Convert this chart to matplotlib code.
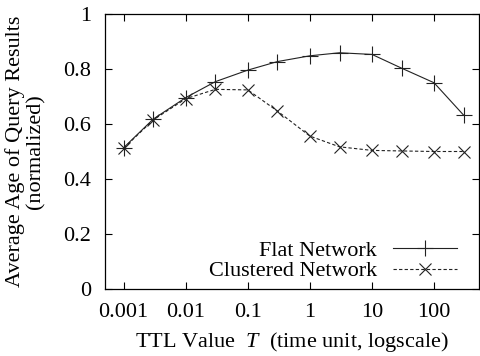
import matplotlib
matplotlib.use("Agg")
import matplotlib.pyplot as plt
from matplotlib.ticker import LogLocator, FixedLocator, NullFormatter

plt.rcParams['font.family'] = ['Liberation Serif', 'DejaVu Serif']
plt.rcParams['mathtext.fontset'] = 'custom'
plt.rcParams['mathtext.it'] = 'Liberation Serif:italic'
plt.rcParams['mathtext.rm'] = 'Liberation Serif'

# TTL values and normalized age for both network types
ttl = [0.001, 0.003, 0.01, 0.03, 0.1, 0.3, 1, 3, 10, 30, 100, 300]
flat = [0.514, 0.618, 0.696, 0.754, 0.796, 0.827, 0.848, 0.859, 0.853, 0.803, 0.750, 0.632]
clustered = [0.512, 0.615, 0.692, 0.726, 0.724, 0.647, 0.556, 0.517, 0.504, 0.502, 0.500, 0.500]

xticks = [0.001, 0.01, 0.1, 1, 10, 100]
xtick_labels = ["0.001", "0.01", "0.1", "1", "10", "100"]
yticks = [0, 0.2, 0.4, 0.6, 0.8, 1]
ytick_labels = ["0", "0.2", "0.4", "0.6", "0.8", "1"]

fs = 16

fig = plt.figure(figsize=(4.81, 3.56), dpi=100)
ax = fig.add_axes([105/481, 1 - 289/356, (479-105)/481, (289-14)/356])

ax.plot(ttl, flat, color='#222222', linestyle='-', linewidth=0.8,
        marker='+', markersize=11, markeredgewidth=0.8, label="Flat Network")
ax.plot(ttl, clustered, color='#222222', linestyle=(0, (3, 2)), linewidth=0.8,
        marker='x', markersize=9, markeredgewidth=0.8, label="Clustered Network")

ax.set_xscale('log')
ax.set_xlim(0.0005, 530)
ax.set_ylim(0, 1)
ax.xaxis.set_major_locator(FixedLocator(xticks))
ax.set_xticklabels(xtick_labels)
ax.xaxis.set_minor_locator(LogLocator(base=10, subs=range(2, 10)))
ax.xaxis.set_minor_formatter(NullFormatter())
ax.set_yticks(yticks)
ax.set_yticklabels(ytick_labels)

ax.tick_params(which='both', direction='in', top=True, right=True, labelsize=fs)
ax.tick_params(which='major', length=5, width=0.8)
ax.tick_params(which='minor', length=2.5, width=0.6)
ax.tick_params(axis='x', pad=10)
ax.tick_params(axis='y', pad=10)
for s in ax.spines.values():
    s.set_linewidth(0.9)

ax.set_xlabel("TTL Value  $T$  (time unit, logscale)", fontsize=fs, labelpad=6)
ax.set_ylabel("Average Age of Query Results\n(normalized)", fontsize=fs, labelpad=13,
              linespacing=1.1)

ax.legend(loc='lower right', frameon=False, markerfirst=False, fontsize=fs,
          handlelength=2.9, handletextpad=0.7, labelspacing=0.0,
          borderaxespad=0.0, bbox_to_anchor=(0.965, -0.005))

fig.savefig("out.png", dpi=100)
